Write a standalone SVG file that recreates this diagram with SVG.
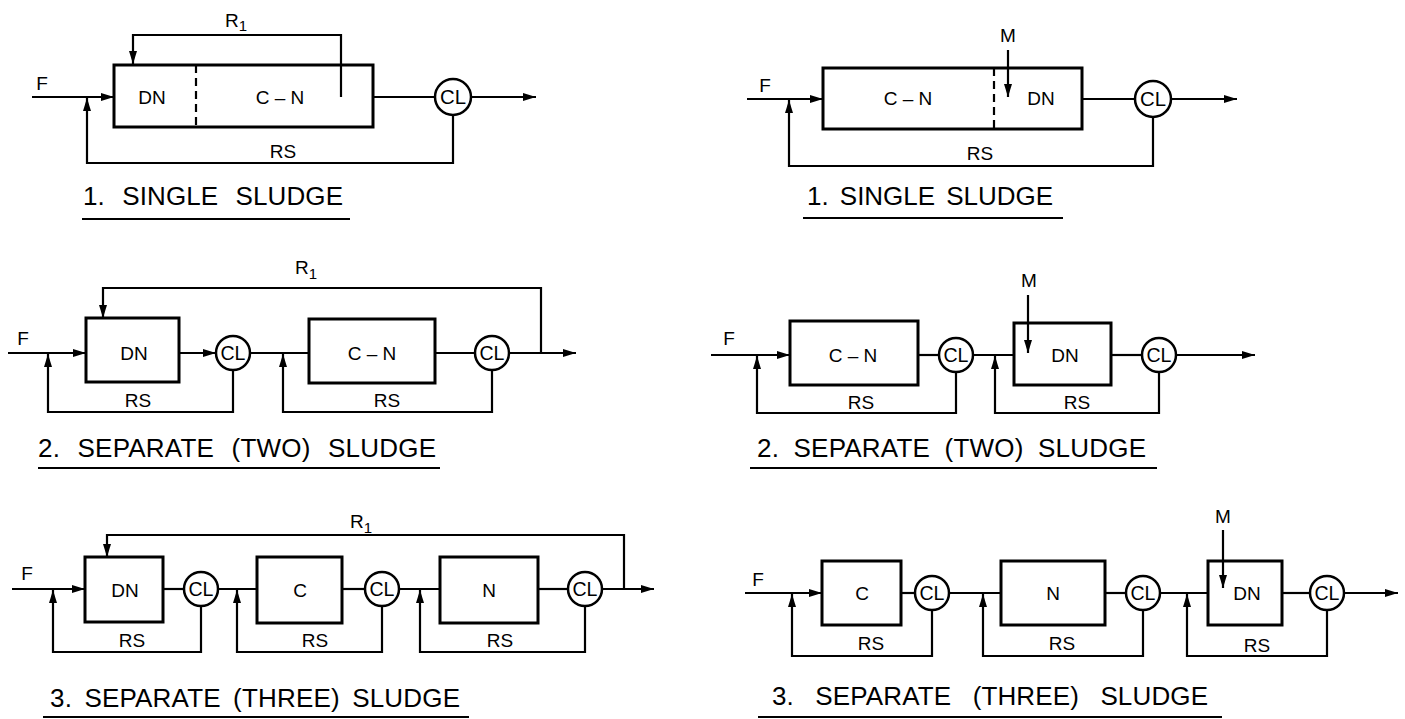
<svg xmlns="http://www.w3.org/2000/svg" width="1405" height="719" viewBox="0 0 1405 719">
<style>
.bg{fill:#fff}
.box{fill:none;stroke:#000;stroke-width:3}
.cl{fill:#fff;stroke:#000;stroke-width:2.5}
.ln{fill:none;stroke:#000;stroke-width:2.2}
.dash{fill:none;stroke:#000;stroke-width:2.2;stroke-dasharray:8 5}
.ar{marker-end:url(#ah)}
text{font-family:"Liberation Sans",Arial,sans-serif;fill:#000}
.lb{font-size:19px;text-anchor:middle}
.cll{font-size:20px;text-anchor:middle}
.cap{font-size:26px}
.r{font-size:19px}
.sub{font-size:15px}
</style>
<defs>
<marker id="ah" viewBox="0 0 13 8" refX="13" refY="4" markerWidth="13" markerHeight="8" markerUnits="userSpaceOnUse" orient="auto">
<path d="M0,0 L13,4 L0,8 Z" fill="#000"/>
</marker>
</defs>
<rect class="bg" x="0" y="0" width="1405" height="719"/>

<g id="connectors">
<!-- D1 -->
<line class="ln ar" x1="32" y1="97" x2="114" y2="97"/>
<polyline class="ln ar" points="341,97 341,35 133,35 133,64"/>
<line class="ln" x1="373" y1="97" x2="435" y2="97"/>
<line class="ln ar" x1="471" y1="97" x2="536" y2="97"/>
<polyline class="ln ar" points="453,115 453,163 87,163 87,98"/>
<!-- D2 -->
<line class="ln ar" x1="1008" y1="50" x2="1008" y2="97"/>
<line class="ln ar" x1="747" y1="99" x2="823" y2="99"/>
<line class="ln" x1="1082" y1="99" x2="1135" y2="99"/>
<line class="ln ar" x1="1171" y1="99" x2="1237" y2="99"/>
<polyline class="ln ar" points="1153,117 1153,166 789,166 789,100"/>
<!-- D3 -->
<polyline class="ln ar" points="541,353 541,288 103,288 103,318"/>
<line class="ln ar" x1="8" y1="353" x2="86" y2="353"/>
<line class="ln ar" x1="179" y1="353" x2="216" y2="353"/>
<line class="ln" x1="250" y1="353" x2="309" y2="353"/>
<line class="ln" x1="435" y1="353" x2="475" y2="353"/>
<line class="ln ar" x1="509" y1="353" x2="576" y2="353"/>
<polyline class="ln ar" points="233,370 233,412 48,412 48,354"/>
<polyline class="ln ar" points="492,370 492,412 283,412 283,354"/>
<!-- D4 -->
<line class="ln ar" x1="1028" y1="295" x2="1028" y2="353"/>
<line class="ln ar" x1="711" y1="355" x2="790" y2="355"/>
<line class="ln" x1="918" y1="355" x2="939" y2="355"/>
<line class="ln" x1="973" y1="355" x2="1014" y2="355"/>
<line class="ln" x1="1111" y1="355" x2="1142" y2="355"/>
<line class="ln ar" x1="1176" y1="355" x2="1255" y2="355"/>
<polyline class="ln ar" points="956,372 956,413 757,413 757,356"/>
<polyline class="ln ar" points="1159,372 1159,413 995,413 995,356"/>
<!-- D5 -->
<polyline class="ln ar" points="624,589 624,535 107,535 107,557"/>
<line class="ln ar" x1="12" y1="589" x2="85" y2="589"/>
<line class="ln" x1="163" y1="589" x2="184" y2="589"/>
<line class="ln" x1="218" y1="589" x2="257" y2="589"/>
<line class="ln" x1="342" y1="589" x2="365" y2="589"/>
<line class="ln" x1="399" y1="589" x2="440" y2="589"/>
<line class="ln" x1="538" y1="589" x2="568" y2="589"/>
<line class="ln ar" x1="602" y1="589" x2="654" y2="589"/>
<polyline class="ln ar" points="201,606 201,652 53,652 53,590"/>
<polyline class="ln ar" points="382,606 382,652 237,652 237,590"/>
<polyline class="ln ar" points="585,606 585,652 420,652 420,590"/>
<!-- D6 -->
<line class="ln ar" x1="1223" y1="530" x2="1223" y2="588"/>
<line class="ln ar" x1="745" y1="593" x2="822" y2="593"/>
<line class="ln" x1="901" y1="593" x2="915" y2="593"/>
<line class="ln" x1="949" y1="593" x2="1001" y2="593"/>
<line class="ln" x1="1105" y1="593" x2="1126" y2="593"/>
<line class="ln" x1="1160" y1="593" x2="1208" y2="593"/>
<line class="ln" x1="1282" y1="593" x2="1310" y2="593"/>
<line class="ln ar" x1="1344" y1="593" x2="1398" y2="593"/>
<polyline class="ln ar" points="932,610 932,656 792,656 792,594"/>
<polyline class="ln ar" points="1143,610 1143,656 983,656 983,594"/>
<polyline class="ln ar" points="1327,610 1327,656 1187,656 1187,594"/>
</g>

<!-- Diagram 1 -->
<g id="d1-box">
<rect class="box" x="114" y="65" width="259" height="62"/>
<line class="dash" x1="196" y1="65" x2="196" y2="127"/>
<text class="lb" x="152" y="104">DN</text>
<text class="lb" x="280" y="104">C – N</text>
</g>
<g id="d1-cl"><circle class="cl" cx="453" cy="97" r="18"/><text class="cll" x="453" y="104" textLength="26" lengthAdjust="spacingAndGlyphs">CL</text></g>
<g id="d1-labels">
<text class="lb" x="42" y="90">F</text>
<text class="r" x="225" y="27">R<tspan class="sub" dy="4">1</tspan></text>
<text class="lb" x="283" y="158">RS</text>
<text class="cap" x="83" y="205" style="word-spacing:10px" textLength="260" lengthAdjust="spacing">1. SINGLE SLUDGE</text>
<line class="ln" x1="82" y1="219" x2="350" y2="219"/>
</g>

<!-- Diagram 2 -->
<g id="d2-box">
<rect class="box" x="823" y="68" width="259" height="61"/>
<line class="dash" x1="994" y1="68" x2="994" y2="129"/>
<text class="lb" x="908" y="105">C – N</text>
<text class="lb" x="1041" y="105">DN</text>
</g>
<g id="d2-cl"><circle class="cl" cx="1153" cy="99" r="18"/><text class="cll" x="1153" y="106" textLength="26" lengthAdjust="spacingAndGlyphs">CL</text></g>
<g id="d2-labels">
<text class="lb" x="1008" y="42">M</text>
<text class="lb" x="765" y="92">F</text>
<text class="lb" x="980" y="160">RS</text>
<text class="cap" x="807" y="205" style="word-spacing:4px" textLength="246" lengthAdjust="spacing">1. SINGLE SLUDGE</text>
<line class="ln" x1="803" y1="218" x2="1063" y2="218"/>
</g>

<!-- Diagram 3 -->
<g id="d3-dn"><rect class="box" x="86" y="318" width="93" height="64"/><text class="lb" x="134" y="360">DN</text></g>
<g id="d3-cl1"><circle class="cl" cx="233" cy="353" r="17"/><text class="cll" x="233" y="360" textLength="25" lengthAdjust="spacingAndGlyphs">CL</text></g>
<g id="d3-cn"><rect class="box" x="309" y="319" width="126" height="64"/><text class="lb" x="372" y="360">C – N</text></g>
<g id="d3-cl2"><circle class="cl" cx="492" cy="353" r="17"/><text class="cll" x="492" y="360" textLength="25" lengthAdjust="spacingAndGlyphs">CL</text></g>
<g id="d3-labels">
<text class="r" x="295" y="274">R<tspan class="sub" dy="5">1</tspan></text>
<text class="lb" x="23" y="345">F</text>
<text class="lb" x="138" y="407">RS</text>
<text class="lb" x="387" y="407">RS</text>
<text class="cap" x="38" y="457" style="word-spacing:10px" textLength="398" lengthAdjust="spacing">2. SEPARATE (TWO) SLUDGE</text>
<line class="ln" x1="38" y1="468" x2="440" y2="468"/>
</g>

<!-- Diagram 4 -->
<g id="d4-cn"><rect class="box" x="790" y="321" width="128" height="64"/><text class="lb" x="853" y="362">C – N</text></g>
<g id="d4-cl1"><circle class="cl" cx="956" cy="355" r="17"/><text class="cll" x="956" y="362" textLength="25" lengthAdjust="spacingAndGlyphs">CL</text></g>
<g id="d4-dn"><rect class="box" x="1014" y="323" width="97" height="62"/><text class="lb" x="1065" y="362">DN</text></g>
<g id="d4-cl2"><circle class="cl" cx="1159" cy="355" r="17"/><text class="cll" x="1159" y="362" textLength="25" lengthAdjust="spacingAndGlyphs">CL</text></g>
<g id="d4-labels">
<text class="lb" x="1029" y="287">M</text>
<text class="lb" x="729" y="345">F</text>
<text class="lb" x="861" y="409">RS</text>
<text class="lb" x="1077" y="409">RS</text>
<text class="cap" x="757" y="457" style="word-spacing:7px" textLength="389" lengthAdjust="spacing">2. SEPARATE (TWO) SLUDGE</text>
<line class="ln" x1="750" y1="468" x2="1157" y2="468"/>
</g>

<!-- Diagram 5 -->
<g id="d5-dn"><rect class="box" x="85" y="557" width="78" height="65"/><text class="lb" x="125" y="597">DN</text></g>
<g id="d5-cl1"><circle class="cl" cx="201" cy="589" r="17"/><text class="cll" x="201" y="596" textLength="25" lengthAdjust="spacingAndGlyphs">CL</text></g>
<g id="d5-c"><rect class="box" x="257" y="557" width="85" height="66"/><text class="lb" x="300" y="597">C</text></g>
<g id="d5-cl2"><circle class="cl" cx="382" cy="589" r="17"/><text class="cll" x="382" y="596" textLength="25" lengthAdjust="spacingAndGlyphs">CL</text></g>
<g id="d5-n"><rect class="box" x="440" y="557" width="98" height="66"/><text class="lb" x="489" y="597">N</text></g>
<g id="d5-cl3"><circle class="cl" cx="585" cy="589" r="17"/><text class="cll" x="585" y="596" textLength="25" lengthAdjust="spacingAndGlyphs">CL</text></g>
<g id="d5-labels">
<text class="r" x="350" y="528">R<tspan class="sub" dy="5">1</tspan></text>
<text class="lb" x="27" y="580">F</text>
<text class="lb" x="132" y="647">RS</text>
<text class="lb" x="315" y="647">RS</text>
<text class="lb" x="500" y="647">RS</text>
<text class="cap" x="50" y="707" style="word-spacing:5px" textLength="410" lengthAdjust="spacing">3. SEPARATE (THREE) SLUDGE</text>
<line class="ln" x1="43" y1="717" x2="469" y2="717"/>
</g>

<!-- Diagram 6 -->
<g id="d6-c"><rect class="box" x="822" y="561" width="79" height="64"/><text class="lb" x="862" y="600">C</text></g>
<g id="d6-cl1"><circle class="cl" cx="932" cy="593" r="17"/><text class="cll" x="932" y="600" textLength="25" lengthAdjust="spacingAndGlyphs">CL</text></g>
<g id="d6-n"><rect class="box" x="1001" y="561" width="104" height="64"/><text class="lb" x="1053" y="600">N</text></g>
<g id="d6-cl2"><circle class="cl" cx="1143" cy="593" r="17"/><text class="cll" x="1143" y="600" textLength="25" lengthAdjust="spacingAndGlyphs">CL</text></g>
<g id="d6-dn"><rect class="box" x="1208" y="561" width="74" height="64"/><text class="lb" x="1247" y="600">DN</text></g>
<g id="d6-cl3"><circle class="cl" cx="1327" cy="593" r="17"/><text class="cll" x="1327" y="600" textLength="25" lengthAdjust="spacingAndGlyphs">CL</text></g>
<g id="d6-labels">
<text class="lb" x="1223" y="523">M</text>
<text class="lb" x="758" y="586">F</text>
<text class="lb" x="871" y="650">RS</text>
<text class="lb" x="1062" y="650">RS</text>
<text class="lb" x="1257" y="652">RS</text>
<text class="cap" x="772" y="705" style="word-spacing:14px" textLength="436" lengthAdjust="spacing">3. SEPARATE (THREE) SLUDGE</text>
<line class="ln" x1="758" y1="717" x2="1222" y2="717"/>
</g>
</svg>
